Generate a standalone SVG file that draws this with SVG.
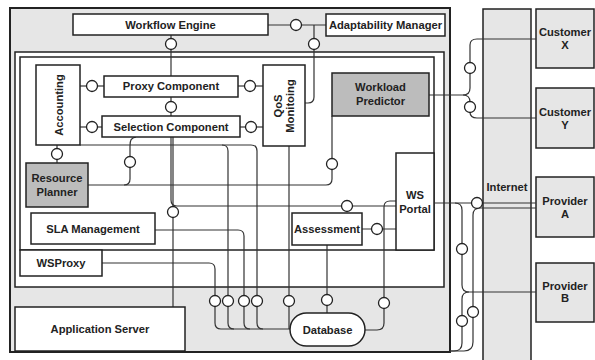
<svg xmlns="http://www.w3.org/2000/svg" width="595" height="360" viewBox="0 0 595 360">
<style>
.box{fill:#fff;stroke:#222;stroke-width:1.5}
.gray{fill:#e6e6e6;stroke:#222;stroke-width:1.5}
.dark{fill:#bcbcbc;stroke:#222;stroke-width:1.5}
.cont{fill:#fff;stroke:#222;stroke-width:1.5}
.t{font-family:"Liberation Sans",Arial,sans-serif;font-weight:bold;font-size:11.2px;fill:#222;text-anchor:middle}
.c{fill:none;stroke:#333;stroke-width:1.2}
.l{fill:#fff;stroke:#222;stroke-width:1.3}
</style>
<rect width="595" height="360" fill="#fff"/>
<g id="container">
<rect x="10" y="8" width="440" height="344" fill="#e6e6e6" stroke="#222" stroke-width="2"/>
<rect class="cont" x="15" y="52" width="429" height="235"/>
<rect class="cont" x="20" y="57" width="414" height="193"/>
</g>
<g id="internet"><rect class="gray" x="483" y="9" width="48" height="360"/><text class="t" x="507" y="191">Internet</text></g>
<g id="customerX"><rect class="gray" x="536" y="9" width="58" height="59"/><text class="t" x="565" y="36">Customer</text><text class="t" x="565" y="49">X</text></g>
<g id="customerY"><rect class="gray" x="536" y="88" width="58" height="60"/><text class="t" x="565" y="116">Customer</text><text class="t" x="565" y="129">Y</text></g>
<g id="providerA"><rect class="gray" x="536" y="177" width="58" height="60"/><text class="t" x="565" y="205">Provider</text><text class="t" x="565" y="218">A</text></g>
<g id="providerB"><rect class="gray" x="536" y="263" width="58" height="59"/><text class="t" x="565" y="290">Provider</text><text class="t" x="565" y="302">B</text></g>
<g id="connectors">
<path class="c" d="M268,25 H326"/>
<path class="c" d="M314,25 V97 Q314,103 308,103 H305"/>
<path class="c" d="M171,35 V76"/>
<path class="c" d="M171,97 V116"/>
<path class="c" d="M80,86 H104"/>
<path class="c" d="M80,127 H102"/>
<path class="c" d="M238,86 H263"/>
<path class="c" d="M240,127 H263"/>
<path class="c" d="M57,145 V163"/>
<path class="c" d="M136,137 C131,138 130,140 130,146 V179 Q130,185 124,185"/>
<path class="c" d="M88,185 H326 Q332,185 332,179 V116"/>
<path class="c" d="M173,137 V307"/>
<path class="c" d="M171,137 V200 Q171,206 177,206 H396"/>
<path class="c" d="M396,201 H390 Q384,201 384,207 V323 Q384,330 377,330 H365"/>
<path class="c" d="M362,229 H396"/>
<path class="c" d="M327,245 V313"/>
<path class="c" d="M102,263 H209 Q215,263 215,269 V323 Q215,329 221,329 H290"/>
<path class="c" d="M80,145 H222 Q228,145 228,151 V323 Q228,329 234,329"/>
<path class="c" d="M222,145 H251 Q257,145 257,151 V323 Q257,329 263,329"/>
<path class="c" d="M155,230 H238 Q244,230 244,236 V323 Q244,329 250,329"/>
<path class="c" d="M289,146 V329"/>
<path class="c" d="M429,95 H463 Q470,95 470,88 V45 Q470,39 477,39 H536"/>
<path class="c" d="M463,95 Q470,95 470,102 V112 Q470,118 477,118 H536"/>
<path class="c" d="M435,203 H536"/>
<path class="c" d="M455,203 Q462,203 462,210 V285 Q462,292 469,292 H536"/>
<path class="c" d="M469,292 Q462,292 462,299 V343 Q462,351 454,351 H450"/>
<path class="c" d="M536,208 H480 Q473,208 473,215 V342 Q473,351 464,351 H450"/>
</g>
<g id="workflowEngine"><rect class="box" x="73" y="14" width="195" height="21"/><text class="t" x="170.5" y="29">Workflow Engine</text></g>
<g id="adaptabilityManager"><rect class="box" x="326" y="14" width="119" height="22"/><text class="t" x="385.5" y="29">Adaptability Manager</text></g>
<g id="accounting"><rect class="box" x="36" y="65" width="44" height="80"/><text class="t" transform="translate(62.5,105) rotate(-90)">Accounting</text></g>
<g id="proxyComponent"><rect class="box" x="104" y="76" width="134" height="21"/><text class="t" x="171" y="90">Proxy Component</text></g>
<g id="selectionComponent"><rect class="box" x="102" y="116" width="138" height="21"/><text class="t" x="171" y="131">Selection Component</text></g>
<g id="qosMonitoring"><rect class="box" x="263" y="65" width="42" height="81"/><text class="t" transform="translate(281.5,106) rotate(-90)">QoS</text><text class="t" transform="translate(294,106) rotate(-90)">Monitoing</text></g>
<g id="workloadPredictor"><rect class="dark" x="332" y="73" width="97" height="43"/><text class="t" x="380.5" y="91">Workload</text><text class="t" x="380.5" y="105">Predictor</text></g>
<g id="resourcePlanner"><rect class="dark" x="26" y="163" width="62" height="44"/><text class="t" x="57" y="182">Resource</text><text class="t" x="57" y="196">Planner</text></g>
<g id="slaManagement"><rect class="box" x="31" y="213" width="124" height="31"/><text class="t" x="93" y="233">SLA Management</text></g>
<g id="wsPortal"><rect class="box" x="396" y="153" width="38" height="97"/><text class="t" x="415" y="199">WS</text><text class="t" x="415" y="213">Portal</text></g>
<g id="assessment"><rect class="box" x="292" y="213" width="70" height="32"/><text class="t" x="327" y="233">Assessment</text></g>
<g id="wsProxy"><rect class="box" x="20" y="250" width="82" height="26"/><text class="t" x="61" y="267">WSProxy</text></g>
<g id="applicationServer"><rect class="box" x="15" y="307" width="170" height="44"/><text class="t" x="100" y="333">Application Server</text></g>
<g id="database"><rect class="box" x="290" y="313" width="75" height="33" rx="16.5"/><text class="t" x="327.5" y="334">Database</text></g>
<g id="interfaces">
<circle class="l" cx="296" cy="25" r="5.5"/>
<circle class="l" cx="314" cy="44" r="5.5"/>
<circle class="l" cx="171" cy="44" r="5.5"/>
<circle class="l" cx="171" cy="107" r="5.5"/>
<circle class="l" cx="92" cy="86" r="5.5"/>
<circle class="l" cx="92" cy="127" r="5.5"/>
<circle class="l" cx="250" cy="86" r="5.5"/>
<circle class="l" cx="251" cy="127" r="5.5"/>
<circle class="l" cx="57" cy="154" r="5.5"/>
<circle class="l" cx="130" cy="162" r="5.5"/>
<circle class="l" cx="332" cy="164" r="5.5"/>
<circle class="l" cx="173" cy="212" r="5.5"/>
<circle class="l" cx="347" cy="206" r="5.5"/>
<circle class="l" cx="377" cy="229" r="5.5"/>
<circle class="l" cx="215" cy="301" r="5.5"/>
<circle class="l" cx="228" cy="301" r="5.5"/>
<circle class="l" cx="244" cy="301" r="5.5"/>
<circle class="l" cx="257" cy="301" r="5.5"/>
<circle class="l" cx="289" cy="301" r="5.5"/>
<circle class="l" cx="327" cy="300" r="5.5"/>
<circle class="l" cx="384" cy="303" r="5.5"/>
<circle class="l" cx="470" cy="68" r="5.5"/>
<circle class="l" cx="470" cy="107" r="5.5"/>
<circle class="l" cx="477" cy="203" r="5.5"/>
<circle class="l" cx="462" cy="249" r="5.5"/>
<circle class="l" cx="473" cy="312" r="5.5"/>
<circle class="l" cx="462" cy="321" r="5.5"/>
</g>
</svg>
